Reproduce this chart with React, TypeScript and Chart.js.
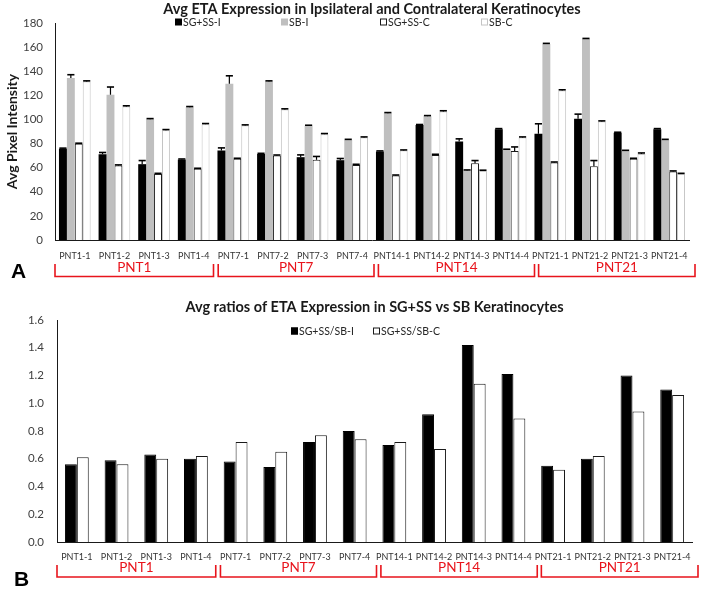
import React, { useEffect, useRef } from 'react';
import { Chart, registerables } from 'chart.js';

Chart.register(...registerables);

const FONT = 'Lato, "Liberation Sans", Arial, sans-serif';

const CATEGORIES = [
  'PNT1-1', 'PNT1-2', 'PNT1-3', 'PNT1-4',
  'PNT7-1', 'PNT7-2', 'PNT7-3', 'PNT7-4',
  'PNT14-1', 'PNT14-2', 'PNT14-3', 'PNT14-4',
  'PNT21-1', 'PNT21-2', 'PNT21-3', 'PNT21-4',
];
const GROUPS = ['PNT1', 'PNT7', 'PNT14', 'PNT21'];

const TITLE_A = 'Avg ETA Expression in Ipsilateral and Contralateral Keratinocytes';
const TITLE_B = 'Avg ratios of ETA Expression in SG+SS vs SB Keratinocytes';
const Y_TITLE_A = 'Avg Pixel Intensity';

// Panel A: average pixel intensity
const SGSS_I = [75.6, 71.2, 62.9, 66.7, 74.2, 71.4, 68.7, 66.2, 73.4, 95.3, 81.7, 91.9, 88.1, 100.5, 88.9, 91.9];
const SGSS_I_ERR = [0.6, 1.4, 3.0, 0.5, 2.2, 0.5, 1.9, 1.4, 0.5, 0.5, 2.2, 0.5, 8.3, 3.9, 0.5, 0.5];
const SB_I = [134.3, 120.5, 100.2, 110.2, 129.6, 131.5, 94.7, 83.0, 105.2, 102.7, 57.6, 74.8, 162.6, 166.7, 73.9, 83.0];
const SB_I_ERR = [2.8, 6.4, 0.5, 0.5, 6.6, 0.5, 0.5, 0.5, 0.5, 0.5, 0.5, 0.5, 0.5, 0.5, 0.5, 0.5];
const SGSS_C = [79.8, 61.8, 54.8, 59.0, 67.3, 70.0, 66.5, 62.3, 53.4, 70.6, 63.7, 73.9, 64.2, 61.2, 67.3, 56.8];
const SGSS_C_ERR = [0.5, 0.5, 0.5, 0.5, 0.5, 0.5, 2.8, 0.5, 0.5, 0.5, 2.2, 3.3, 0.5, 4.7, 0.5, 0.5];
const SB_C = [131.5, 110.8, 91.1, 96.1, 95.0, 108.3, 87.8, 85.0, 74.2, 106.6, 57.3, 85.0, 124.1, 98.3, 71.4, 54.8];
const SB_C_ERR = [0.5, 0.5, 0.5, 0.5, 0.5, 0.5, 0.5, 0.5, 0.5, 0.6, 0.6, 0.5, 0.5, 0.5, 0.8, 0.5];

// Panel B: ratios
const RATIO_I = [0.56, 0.59, 0.63, 0.60, 0.58, 0.54, 0.72, 0.80, 0.70, 0.92, 1.42, 1.21, 0.55, 0.60, 1.20, 1.10];
const RATIO_C = [0.61, 0.56, 0.60, 0.62, 0.72, 0.65, 0.77, 0.74, 0.72, 0.67, 1.14, 0.89, 0.52, 0.62, 0.94, 1.06];

const RED = '#e8141c';

const errorBarPlugin = {
  id: 'errorBars',
  afterDatasetsDraw(chart: any) {
    const { ctx } = chart;
    const yScale = chart.scales.y;
    chart.data.datasets.forEach((ds: any, di: number) => {
      if (!ds.errors) return;
      const meta = chart.getDatasetMeta(di);
      meta.data.forEach((el: any, i: number) => {
        const v = ds.data[i];
        const e = ds.errors[i];
        const yTop = yScale.getPixelForValue(v + e);
        const x = el.x;
        const w = el.width;
        ctx.save();
        ctx.strokeStyle = '#000';
        ctx.lineWidth = 1.2;
        ctx.beginPath();
        ctx.moveTo(x, el.y);
        ctx.lineTo(x, yTop);
        ctx.stroke();
        ctx.lineWidth = 1.6;
        ctx.beginPath();
        ctx.moveTo(x - w * 0.45, yTop);
        ctx.lineTo(x + w * 0.45, yTop);
        ctx.stroke();
        ctx.restore();
      });
    });
  },
};

const decorPlugin = {
  id: 'decor',
  afterDraw(chart: any, _args: any, opts: any) {
    const { ctx } = chart;
    const xs = chart.scales.x;
    ctx.save();
    // legend
    const boxSize = 7;
    chart.data.datasets.forEach((ds: any, i: number) => {
      const lx = opts.legendX[i];
      const ly = opts.legendY;
      ctx.fillStyle = ds.backgroundColor;
      ctx.fillRect(lx, ly - boxSize / 2, boxSize, boxSize);
      if (ds.borderWidth) {
        ctx.strokeStyle = ds.borderColor;
        ctx.lineWidth = 1;
        ctx.strokeRect(lx + 0.5, ly - boxSize / 2 + 0.5, boxSize - 1, boxSize - 1);
      }
      ctx.fillStyle = '#262626';
      ctx.font = `10.5px ${FONT}`;
      ctx.textBaseline = 'middle';
      ctx.textAlign = 'left';
      ctx.fillText(ds.label, lx + boxSize + 1, ly + 0.5);
    });
    // group brackets
    const n = chart.data.labels.length;
    const per = n / opts.groups.length;
    ctx.strokeStyle = RED;
    ctx.lineWidth = 1.6;
    opts.groups.forEach((g: string, gi: number) => {
      const b0 = xs.getPixelForValue(gi * per - 0.5);
      const b1 = xs.getPixelForValue((gi + 1) * per - 0.5);
      const left = b0 + (gi ? 3 + 1.7 * gi : 0);
      const right = b1 + 2 * gi;
      ctx.beginPath();
      ctx.moveTo(left, opts.bracketTop);
      ctx.lineTo(left, opts.bracketBottom);
      ctx.lineTo(right, opts.bracketBottom);
      ctx.lineTo(right, opts.bracketTop);
      ctx.stroke();
      ctx.fillStyle = RED;
      ctx.font = `13.5px ${FONT}`;
      ctx.textAlign = 'center';
      ctx.textBaseline = 'middle';
      ctx.fillText(g, (left + right) / 2, opts.groupLabelY);
    });
    // panel letter
    ctx.fillStyle = '#000';
    ctx.font = `bold 21px "Liberation Sans", Arial, sans-serif`;
    ctx.textAlign = 'center';
    ctx.textBaseline = 'middle';
    ctx.fillText(opts.letter, opts.letterX, opts.letterY);
    ctx.restore();
  },
};

function App() {
  const refA = useRef<HTMLCanvasElement>(null);
  const refB = useRef<HTMLCanvasElement>(null);

  useEffect(() => {
    Chart.defaults.font.family = FONT;
    const xScale = (padding: number, h: number) => ({
      grid: { display: false, drawTicks: false },
      border: { display: true, color: '#1a1a1a', width: 1 },
      ticks: { autoSkip: false, maxRotation: 0, minRotation: 0, padding, font: { size: 9 }, color: '#333' },
      afterFit: (s: any) => { s.height = h; },
    });

    const chartA = new Chart(refA.current as HTMLCanvasElement, {
      type: 'bar',
      data: {
        labels: CATEGORIES,
        datasets: [
          { label: 'SG+SS-I', data: SGSS_I, errors: SGSS_I_ERR, backgroundColor: '#000000', borderColor: '#000000', borderWidth: 0 } as any,
          { label: 'SB-I', data: SB_I, errors: SB_I_ERR, backgroundColor: '#bfbfbf', borderColor: '#bfbfbf', borderWidth: 0 } as any,
          { label: 'SG+SS-C', data: SGSS_C, errors: SGSS_C_ERR, backgroundColor: '#ffffff', borderColor: '#1a1a1a', borderWidth: 1 } as any,
          { label: 'SB-C', data: SB_C, errors: SB_C_ERR, backgroundColor: '#ffffff', borderColor: '#c4c4c4', borderWidth: 1 } as any,
        ],
      },
      options: {
        responsive: false,
        animation: false,
        layout: { padding: { left: 0, right: 16, top: 0, bottom: 0 } },
        datasets: { bar: { categoryPercentage: 0.8, barPercentage: 1.0 } },
        plugins: {
          legend: { display: false },
          tooltip: { enabled: false },
          title: {
            display: true, text: TITLE_A, fullSize: false, color: '#1a1a1a',
            font: { size: 14.5, weight: 'bold' }, padding: { top: 1, bottom: 4.6 },
          },
          decor: {
            legendX: [175, 281, 380, 481], legendY: 22,
            groups: GROUPS, bracketTop: 264, bracketBottom: 276.5, groupLabelY: 268,
            letter: 'A', letterX: 18.5, letterY: 272,
          },
        } as any,
        scales: {
          x: xScale(11, 57) as any,
          y: {
            min: 0, max: 180,
            grid: { display: false, drawTicks: false },
            border: { display: true, color: '#1a1a1a', width: 1 },
            ticks: { stepSize: 20, padding: 12, font: { size: 11.5 }, color: '#404040' },
            title: { display: true, text: Y_TITLE_A, color: '#1a1a1a', font: { size: 14, weight: 'bold' }, padding: { top: 4, bottom: 0 } },
            afterFit: (s: any) => { s.width = 55; },
          } as any,
        },
      },
      plugins: [errorBarPlugin, decorPlugin],
    });

    const chartB = new Chart(refB.current as HTMLCanvasElement, {
      type: 'bar',
      data: {
        labels: CATEGORIES,
        datasets: [
          { label: 'SG+SS/SB-I', data: RATIO_I, backgroundColor: '#000000', borderColor: '#000000', borderWidth: 1 },
          { label: 'SG+SS/SB-C', data: RATIO_C, backgroundColor: '#ffffff', borderColor: '#1a1a1a', borderWidth: 1 },
        ],
      },
      options: {
        responsive: false,
        animation: false,
        layout: { padding: { left: 0, right: 13, top: 0, bottom: 0 } },
        datasets: { bar: { categoryPercentage: 0.6, barPercentage: 1.0 } },
        plugins: {
          legend: { display: false },
          tooltip: { enabled: false },
          title: {
            display: true, text: TITLE_B, fullSize: false, color: '#1a1a1a',
            font: { size: 14.5, weight: 'bold' }, padding: { top: 1.5, bottom: 4.1 },
          },
          decor: {
            legendX: [291, 373], legendY: 34,
            groups: GROUPS, bracketTop: 268, bracketBottom: 280, groupLabelY: 271,
            letter: 'B', letterX: 21.5, letterY: 283,
          },
        } as any,
        scales: {
          x: xScale(10, 52) as any,
          y: {
            min: 0, max: 1.6,
            grid: { display: false, drawTicks: false },
            border: { display: true, color: '#1a1a1a', width: 1 },
            ticks: { stepSize: 0.2, padding: 13, font: { size: 11.5 }, color: '#404040', callback: (v: any) => Number(v).toFixed(1) },
            afterFit: (s: any) => { s.width = 57; },
          } as any,
        },
      },
      plugins: [decorPlugin],
    });

    return () => {
      chartA.destroy();
      chartB.destroy();
    };
  }, []);

  return (
    <div style={{ position: 'absolute', left: 0, top: 0, width: 705, height: 594, background: '#ffffff' }}>
      <canvas ref={refA} width={705} height={297} style={{ position: 'absolute', left: 0, top: 0, width: 705, height: 297 }} />
      <canvas ref={refB} width={705} height={297} style={{ position: 'absolute', left: 0, top: 297, width: 705, height: 297 }} />
    </div>
  );
}

export default App;
